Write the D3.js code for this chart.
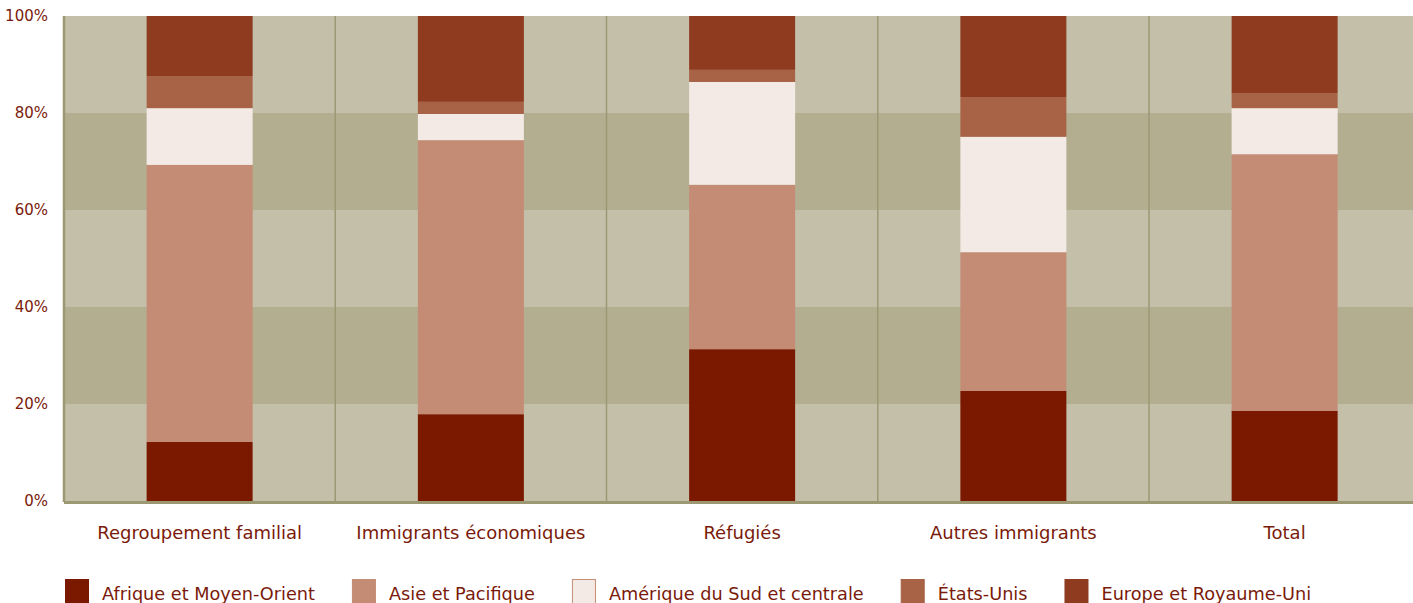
<!DOCTYPE html>
<html>
<head>
<meta charset="utf-8">
<script src="https://cdn.jsdelivr.net/npm/d3@7"></script>
<style>
  html, body { margin: 0; padding: 0; background: #ffffff; }
  svg { display: block; }
  text { font-family: "DejaVu Sans", sans-serif; fill: #7a1a0a; }
</style>
</head>
<body>
<svg id="chart" width="1413" height="603"></svg>
<script>
// ---- data ----
const categories = ["Regroupement familial", "Immigrants économiques", "Réfugiés", "Autres immigrants", "Total"];
const seriesNames = ["Afrique et Moyen-Orient", "Asie et Pacifique", "Amérique du Sud et centrale", "États-Unis", "Europe et Royaume-Uni"];
const afrique   = [12.2, 17.9, 31.3, 22.7, 18.6];
const asie      = [57.1, 56.5, 33.9, 28.6, 52.9];
const amerique  = [11.7,  5.4, 21.2, 23.8,  9.5];
const etatsUnis = [ 6.6,  2.5,  2.5,  8.2,  3.1];
const europe    = [12.4, 17.7, 11.1, 16.7, 15.9];
const yTicks = [0, 20, 40, 60, 80, 100];
const tickLabels = ["0%", "20%", "40%", "60%", "80%", "100%"];

// ---- styles ----
const colors = ["#7b1800", "#c48b75", "#f4eae5", "#a86246", "#8f3b20"];
const bandLight = "#c4bfa9", bandDark = "#b3ae90", gridColor = "#9d9874";

const svg = d3.select("#chart");
const mLeft = 64, mTop = 16, mBottom = 501;
const bandW = 271.25;
const mRight = mLeft + categories.length * bandW;

const x = d3.scaleBand().domain(categories).range([mLeft, mRight]).padding(0);
const y = d3.scaleLinear().domain([0, 100]).range([mBottom, mTop]);

// background bands
const bands = d3.pairs(yTicks);
svg.append("g").selectAll("rect").data(bands).join("rect")
  .attr("x", mLeft).attr("width", mRight - mLeft)
  .attr("y", d => y(d[1])).attr("height", d => y(d[0]) - y(d[1]))
  .attr("fill", (d, i) => i % 2 === 0 ? bandLight : bandDark);

// vertical separators
svg.append("g").selectAll("line").data(categories.slice(1)).join("line")
  .attr("x1", d => x(d)).attr("x2", d => x(d))
  .attr("y1", mTop).attr("y2", mBottom)
  .attr("stroke", gridColor).attr("stroke-width", 1.5);

// stacked bars
const rows = categories.map((c, i) => ({cat: c, s0: afrique[i], s1: asie[i], s2: amerique[i], s3: etatsUnis[i], s4: europe[i]}));
const stack = d3.stack().keys(["s0", "s1", "s2", "s3", "s4"]);
const stacked = stack(rows);
const barW = 106;
svg.append("g").selectAll("g").data(stacked).join("g")
  .attr("fill", (d, i) => colors[i])
  .selectAll("rect").data(d => d).join("rect")
  .attr("x", d => x(d.data.cat) + x.bandwidth() / 2 - barW / 2)
  .attr("width", barW)
  .attr("y", d => y(d[1]))
  .attr("height", d => y(d[0]) - y(d[1]));

// left border and bottom axis line
svg.append("line").attr("x1", mLeft).attr("x2", mLeft).attr("y1", mTop).attr("y2", mBottom + 1)
  .attr("stroke", gridColor).attr("stroke-width", 2.5);
svg.append("line").attr("x1", mLeft).attr("x2", mRight).attr("y1", mBottom + 1.5).attr("y2", mBottom + 1.5)
  .attr("stroke", gridColor).attr("stroke-width", 3);

// y axis labels
const yAxis = d3.axisLeft(y).tickValues(yTicks).tickFormat((d, i) => tickLabels[i]).tickSize(0).tickPadding(16);
const gy = svg.append("g").attr("transform", `translate(${mLeft},0)`).call(yAxis);
gy.select(".domain").remove();
gy.selectAll("text").attr("font-size", 15).attr("font-family", "DejaVu Sans").attr("fill", "#8a2a1a");

// x axis labels
const xAxis = d3.axisBottom(x).tickSize(0).tickPadding(25);
const gx = svg.append("g").attr("transform", `translate(0,${mBottom})`).call(xAxis);
gx.select(".domain").remove();
gx.selectAll("text").attr("font-size", 18).attr("font-family", "DejaVu Sans").attr("fill", "#7a1a0a");

// legend
const legend = svg.append("g").attr("transform", "translate(65,579)");
let lx = 0;
seriesNames.forEach((name, i) => {
  const g = legend.append("g").attr("transform", `translate(${lx},0)`);
  g.append("rect").attr("x", 0.5).attr("y", 0.5).attr("width", 23).attr("height", 24)
    .attr("fill", colors[i]).attr("stroke", i === 2 ? "#c48b75" : colors[i]).attr("stroke-width", 1);
  const t = g.append("text").attr("x", 37).attr("y", 14.5).attr("dy", "0.35em")
    .attr("font-size", 17.7).text(name);
  lx += 37 + t.node().getComputedTextLength() + 37;
});
</script>
</body>
</html>
